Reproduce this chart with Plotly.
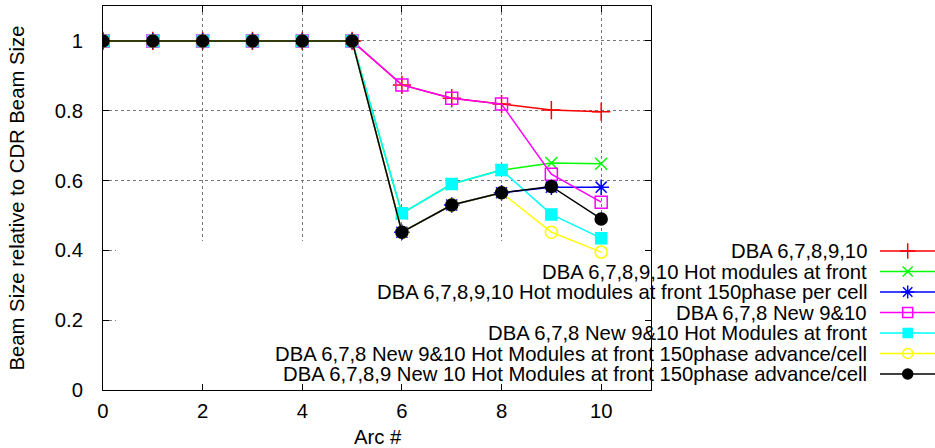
import plotly.graph_objects as go

# ---------------- data ----------------
arc = [0, 1, 2, 3, 4, 5, 6, 7, 8, 9, 10]
dba_678910 = [1, 1, 1, 1, 1, 1, 0.874, 0.836, 0.819, 0.802, 0.797]
dba_678910_hot = [1, 1, 1, 1, 1, 1, 0.506, 0.590, 0.630, 0.650, 0.648]
dba_678910_hot150 = [1, 1, 1, 1, 1, 1, 0.452, 0.530, 0.565, 0.581, 0.581]
dba_678_new910 = [1, 1, 1, 1, 1, 1, 0.874, 0.836, 0.819, 0.618, 0.538]
dba_678_new910_hot = [1, 1, 1, 1, 1, 1, 0.506, 0.590, 0.630, 0.503, 0.435]
dba_678_new910_hot150 = [1, 1, 1, 1, 1, 1, 0.452, 0.530, 0.565, 0.452, 0.395]
dba_6789_new10_hot150 = [1, 1, 1, 1, 1, 1, 0.452, 0.530, 0.565, 0.583, 0.490]

series_names = [
    "DBA 6,7,8,9,10",
    "DBA 6,7,8,9,10 Hot modules at front",
    "DBA 6,7,8,9,10 Hot modules at front 150phase per cell",
    "DBA 6,7,8 New 9&10",
    "DBA 6,7,8 New 9&10 Hot Modules at front",
    "DBA 6,7,8 New 9&10 Hot Modules at front 150phase advance/cell",
    "DBA 6,7,8,9 New 10 Hot Modules at front 150phase advance/cell",
]
series_values = [
    dba_678910, dba_678910_hot, dba_678910_hot150, dba_678_new910,
    dba_678_new910_hot, dba_678_new910_hot150, dba_6789_new10_hot150,
]
x_ticks = [0, 2, 4, 6, 8, 10]
y_ticks = [0, 0.2, 0.4, 0.6, 0.8, 1]
y_tick_labels = ["0", "0.2", "0.4", "0.6", "0.8", "1"]

# ---------------- styles ----------------
colors = ["#ff0000", "#00ff00", "#0000ff", "#ff00ff", "#00ffff", "#ffff00", "#000000"]
symbols = ["cross-thin-open", "x-thin-open", "asterisk-open", "square-open",
           "square", "circle-open", "circle"]
sizes = [13, 12, 13, 12, 11, 12, 12]
FONT = "Liberation Sans, Arial, Helvetica, sans-serif"
FS = 20.3

W, H = 935, 448
ML, MR, MT, MB = 103, 0, 6, 58
plot_right_px = 651
PW = W - ML - MR
PH = H - MT - MB

fig = go.Figure()

for name, vals, c, s, sz in zip(series_names, series_values, colors, symbols, sizes):
    fig.add_trace(go.Scatter(
        x=arc, y=vals, name=name, mode="lines+markers",
        line=dict(color=c, width=1.5),
        marker=dict(symbol=s, size=sz, color=c, line=dict(color=c, width=1.5)),
        showlegend=False, xaxis="x", yaxis="y",
    ))

# ---------------- manual gnuplot-style key (text right, sample on right) ----------------
key_top = 251.0
key_step = 20.5
text_right = 869
sample_x0, sample_x1 = 880, 935
sample_mid = 907.7
for i, (name, c, s, sz) in enumerate(zip(series_names, colors, symbols, sizes)):
    ry = key_top + i * key_step
    fig.add_trace(go.Scatter(
        x=[sample_x0, sample_x1], y=[ry, ry], mode="lines",
        line=dict(color=c, width=1.5), showlegend=False, hoverinfo="skip",
        xaxis="x2", yaxis="y2", cliponaxis=False,
    ))
    fig.add_trace(go.Scatter(
        x=[sample_mid], y=[ry], mode="markers",
        marker=dict(symbol=s, size=sz - 2, color=c, line=dict(color=c, width=1.5)),
        showlegend=False, hoverinfo="skip", xaxis="x2", yaxis="y2", cliponaxis=False,
    ))
    fig.add_annotation(
        x=text_right, y=ry, xref="x2", yref="y2", text=name, showarrow=False,
        xanchor="right", yanchor="middle", font=dict(family=FONT, size=FS, color="black"),
    )

# opaque key box hides grid lines (between grid and traces)
fig.add_shape(type="rect", xref="x", yref="y", x0=0.26, x1=11, y0=0, y1=0.427,
              fillcolor="white", line=dict(width=0), layer="between")

# axis titles
fig.add_annotation(text="Arc #", xref="paper", yref="paper",
                   x=(378 - ML) / PW, y=(H - MB - 437) / PH,
                   showarrow=False, xanchor="center", yanchor="middle",
                   font=dict(family=FONT, size=FS, color="black"))
fig.add_annotation(text="Beam Size relative to CDR Beam Size", xref="paper", yref="paper",
                   x=(17 - ML) / PW, y=(H - MB - 198.5) / PH, textangle=-90,
                   showarrow=False, xanchor="center", yanchor="middle",
                   font=dict(family=FONT, size=FS, color="black"))

axis_common = dict(
    showline=True, linecolor="black", linewidth=1, mirror="ticks",
    ticks="inside", ticklen=6, tickwidth=1, tickcolor="black",
    showgrid=True, gridcolor="#777777", griddash="dot", gridwidth=1,
    zeroline=False, tickfont=dict(family=FONT, size=FS, color="black"),
)

fig.update_layout(
    width=W, height=H,
    margin=dict(l=ML, r=MR, t=MT, b=MB, pad=0),
    paper_bgcolor="white", plot_bgcolor="rgba(0,0,0,0)",
    showlegend=False,
    xaxis=dict(domain=[0, (plot_right_px - ML) / PW], range=[0, 11],
               tickvals=x_ticks, anchor="y", ticklabelstandoff=3, **axis_common),
    yaxis=dict(domain=[0, 1], range=[0, 1.1], tickvals=y_ticks,
               ticktext=y_tick_labels,
               anchor="x", ticklabelstandoff=15, **axis_common),
    xaxis2=dict(domain=[0, 1], range=[ML, W - MR], anchor="y2", visible=False),
    yaxis2=dict(domain=[0, 1], range=[H - MB, MT], anchor="x2", visible=False),
)

fig.write_html("out.html",
               config={"displayModeBar": False, "staticPlot": True},
               post_script="document.body.style.margin='0px';document.body.style.overflow='hidden';")
